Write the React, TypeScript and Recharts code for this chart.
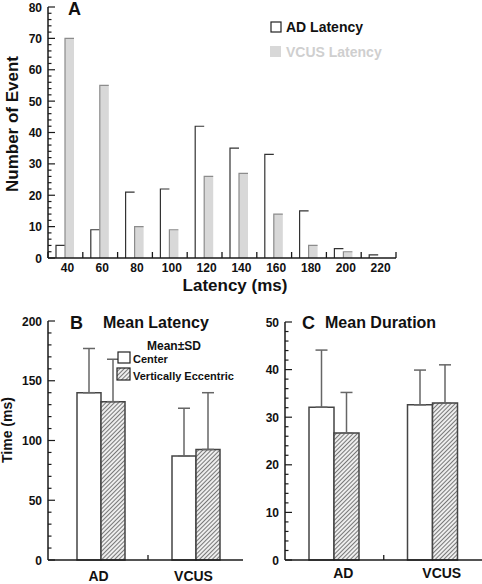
import React from 'react';
import { BarChart, Bar, XAxis, YAxis, ErrorBar } from 'recharts';

// ---------- Panel A data ----------
const latencyBins = ['40', '60', '80', '100', '120', '140', '160', '180', '200', '220'];
const adLatencyCounts = [4, 9, 21, 22, 42, 35, 33, 15, 3, 1];
const vcusLatencyCounts = [70, 55, 10, 9, 26, 27, 14, 4, 2, 0];
const countMajorTicks = [0, 10, 20, 30, 40, 50, 60, 70, 80];
const countMinorStep = 2;

// ---------- Panels B / C data ----------
const groups = ['AD', 'VCUS'];
const latencyCenterMean = [140, 87];
const latencyCenterSD = [37, 40];
const latencyEccMean = [132.5, 92.5];
const latencyEccSD = [35.5, 47.5];
const latencyMajorTicks = [0, 50, 100, 150, 200];
const latencyMinorStep = 10;

const durationCenterMean = [32.1, 32.6];
const durationCenterSD = [12, 7.3];
const durationEccMean = [26.7, 33];
const durationEccSD = [8.5, 8];
const durationMajorTicks = [0, 10, 20, 30, 40, 50];
const durationMinorStep = 2;

const histData = latencyBins.map((bin, i) => ({
  bin,
  ad: adLatencyCounts[i],
  vcus: vcusLatencyCounts[i],
}));

const latencyData = groups.map((g, i) => ({
  group: g,
  center: latencyCenterMean[i],
  centerErr: [0, latencyCenterSD[i]],
  ecc: latencyEccMean[i],
  eccErr: [0, latencyEccSD[i]],
}));

const durationData = groups.map((g, i) => ({
  group: g,
  center: durationCenterMean[i],
  centerErr: [0, durationCenterSD[i]],
  ecc: durationEccMean[i],
  eccErr: [0, durationEccSD[i]],
}));

const allTicks = (majors: number[], step: number) => {
  const out: number[] = [];
  const max = majors[majors.length - 1];
  for (let v = 0; v <= max + 1e-9; v += step) out.push(Math.round(v * 100) / 100);
  return out;
};

const FONT = '"Liberation Sans", Arial, Helvetica, sans-serif';
const AXIS = '#1a1a1a';

const makeYTick = (majors: number[]) => (props: any) => {
  const { x, y, payload } = props;
  const isMajor = majors.includes(payload.value);
  return (
    <g>
      <line x1={x} x2={x + (isMajor ? 7 : 3.5)} y1={y} y2={y} stroke={AXIS} strokeWidth={1.2} />
      {isMajor && (
        <text x={x - 6} y={y} dy={4.5} textAnchor="end" fontFamily={FONT} fontSize={12} fontWeight="bold" fill="#111">
          {payload.value}
        </text>
      )}
    </g>
  );
};

const BAND_A = (396 - 48) / 10;

const HistTick = (props: any) => {
  const { x, y, payload, index } = props;
  const half = BAND_A / 2;
  return (
    <g>
      <line x1={x - half} x2={x - half} y1={y} y2={y - 6} stroke={AXIS} strokeWidth={1.3} />
      {index === latencyBins.length - 1 && (
        <line x1={x + half} x2={x + half} y1={y} y2={y - 6} stroke={AXIS} strokeWidth={1.3} />
      )}
      <text x={x + 2} y={y + 14} textAnchor="middle" fontFamily={FONT} fontSize={12} fontWeight="bold" fill="#111">
        {payload.value}
      </text>
    </g>
  );
};

const makeGroupTick = (band: number, dy: number, dx: number) => (props: any) => {
  const { x, y, payload, index } = props;
  return (
    <g>
      {index === 1 && (
        <line x1={x - band / 2} x2={x - band / 2} y1={y} y2={y - 5} stroke={AXIS} strokeWidth={1.3} />
      )}
      <text x={x + dx} y={y + dy} textAnchor="middle" fontFamily={FONT} fontSize={14} fontWeight="bold" fill="#111">
        {payload.value}
      </text>
    </g>
  );
};

const OpenBarOutline = (props: any) => {
  const { x, y, width, height } = props;
  if (!height || height <= 0) return null;
  return (
    <g>
      <rect x={x} y={y} width={width} height={height} fill="#fff" />
      <path d={`M${x},${y + height} L${x},${y} L${x + width},${y}`} fill="none" stroke="#333" strokeWidth={1.2} />
    </g>
  );
};

const GrayBar = (props: any) => {
  const { x, y, width, height } = props;
  if (!height || height <= 0) return null;
  return (
    <g>
      <rect x={x} y={y} width={width} height={height} fill="#d8d8d8" />
      <path d={`M${x},${y + height} L${x},${y} L${x + width},${y}`} fill="none" stroke="#8c8c8c" strokeWidth={1.2} />
    </g>
  );
};

const axisLineStyle = { stroke: AXIS, strokeWidth: 1.5 };

export default function App() {
  const bold = { fontFamily: FONT, fontWeight: 'bold' as const };
  return (
    <div style={{ position: 'absolute', left: 0, top: 0, width: 482, height: 584, background: '#fff', fontFamily: FONT }}>
      <svg width={0} height={0} style={{ position: 'absolute' }}>
        <defs>
          <pattern id="hatch" patternUnits="userSpaceOnUse" width="3" height="3" patternTransform="rotate(45)">
            <rect x="0" y="0" width="3" height="3" fill="#eeeeee" />
            <line x1="0" y1="0" x2="0" y2="3" stroke="#505050" strokeWidth="1.5" />
          </pattern>
        </defs>
      </svg>

      {/* Panel A */}
      <div style={{ position: 'absolute', left: 0, top: 0 }}>
        <BarChart
          width={482}
          height={300}
          data={histData}
          margin={{ top: 7, right: 86, left: 0, bottom: 0 }}
          barGap={0}
        >
          <XAxis
            dataKey="bin"
            height={42}
            interval={0}
            tickSize={0}
            tickMargin={0}
            tickLine={false}
            axisLine={axisLineStyle}
            tick={HistTick}
          />
          <YAxis
            width={48}
            domain={[0, 80]}
            ticks={allTicks(countMajorTicks, countMinorStep)}
            interval={0}
            tickSize={0}
            tickMargin={0}
            tickLine={false}
            axisLine={axisLineStyle}
            tick={makeYTick(countMajorTicks)}
          />
          <Bar dataKey="ad" barSize={9} shape={OpenBarOutline} isAnimationActive={false} />
          <Bar dataKey="vcus" barSize={9} shape={GrayBar} isAnimationActive={false} />
        </BarChart>
      </div>

      {/* Panel B */}
      <div style={{ position: 'absolute', left: 0, top: 300 }}>
        <BarChart
          width={250}
          height={284}
          data={latencyData}
          margin={{ top: 21, right: 7, left: 0, bottom: 0 }}
          barGap={0}
        >
          <XAxis
            dataKey="group"
            height={24}
            interval={0}
            padding={{ left: 5, right: 0 }}
            tickSize={0}
            tickMargin={0}
            tickLine={false}
            axisLine={axisLineStyle}
            tick={makeGroupTick(95, 21, -2)}
          />
          <YAxis
            width={48}
            domain={[0, 200]}
            ticks={allTicks(latencyMajorTicks, latencyMinorStep)}
            interval={0}
            tickSize={0}
            tickMargin={0}
            tickLine={false}
            axisLine={axisLineStyle}
            tick={makeYTick(latencyMajorTicks)}
          />
          <Bar dataKey="center" barSize={24} fill="#fff" stroke="#444" strokeWidth={1.5} isAnimationActive={false}>
            <ErrorBar dataKey="centerErr" width={6} stroke="#666" strokeWidth={1.5} direction="y" />
          </Bar>
          <Bar dataKey="ecc" barSize={24} fill="url(#hatch)" stroke="#444" strokeWidth={1.5} isAnimationActive={false}>
            <ErrorBar dataKey="eccErr" width={6} stroke="#666" strokeWidth={1.5} direction="y" />
          </Bar>
        </BarChart>
      </div>

      {/* Panel C */}
      <div style={{ position: 'absolute', left: 240, top: 300 }}>
        <BarChart
          width={242}
          height={284}
          data={durationData}
          margin={{ top: 22, right: 0, left: 0, bottom: 0 }}
          barGap={0}
        >
          <XAxis
            dataKey="group"
            height={24}
            interval={0}
            tickSize={0}
            tickMargin={0}
            tickLine={false}
            axisLine={axisLineStyle}
            tick={makeGroupTick(98, 18, 9)}
          />
          <YAxis
            width={45}
            domain={[0, 50]}
            ticks={allTicks(durationMajorTicks, durationMinorStep)}
            interval={0}
            tickSize={0}
            tickMargin={0}
            tickLine={false}
            axisLine={axisLineStyle}
            tick={makeYTick(durationMajorTicks)}
          />
          <Bar dataKey="center" barSize={25} fill="#fff" stroke="#444" strokeWidth={1.5} isAnimationActive={false}>
            <ErrorBar dataKey="centerErr" width={6} stroke="#666" strokeWidth={1.5} direction="y" />
          </Bar>
          <Bar dataKey="ecc" barSize={25} fill="url(#hatch)" stroke="#444" strokeWidth={1.5} isAnimationActive={false}>
            <ErrorBar dataKey="eccErr" width={6} stroke="#666" strokeWidth={1.5} direction="y" />
          </Bar>
        </BarChart>
      </div>

      {/* Text overlay */}
      <svg width={482} height={584} style={{ position: 'absolute', left: 0, top: 0, pointerEvents: 'none' }}>
        {/* Panel A texts */}
        <text x={68} y={15} fontSize={18} {...bold} fill="#111">A</text>
        <text transform="translate(17.5,124) rotate(-90)" textAnchor="middle" fontSize={17} {...bold} fill="#111">
          Number of Event
        </text>
        <text x={235} y={291} textAnchor="middle" fontSize={17} {...bold} fill="#111">Latency (ms)</text>
        <rect x={271} y={22} width={10} height={10} fill="#fff" stroke="#222" strokeWidth={1.2} />
        <text x={286} y={32} fontSize={14} {...bold} fill="#111">AD Latency</text>
        <rect x={270} y={46} width={11} height={11} fill="#d8d8d8" />
        <text x={286} y={57} fontSize={14} {...bold} fill="#cfcfcf">VCUS Latency</text>

        {/* Panel B texts */}
        <text x={70} y={329} fontSize={18} {...bold} fill="#111">B</text>
        <text x={103} y={328} fontSize={16} {...bold} fill="#111">Mean Latency</text>
        <text transform="translate(12,430) rotate(-90)" textAnchor="middle" fontSize={14} {...bold} fill="#111">
          Time (ms)
        </text>
        <text x={147} y={350} fontSize={12} {...bold} fill="#111">Mean±SD</text>
        <rect x={118} y={352} width={12} height={11} fill="#fff" stroke="#222" strokeWidth={1.2} />
        <text x={133} y={363} fontSize={11} {...bold} fill="#111">Center</text>
        <rect x={117} y={368} width={13} height={12} fill="url(#hatch)" stroke="#222" strokeWidth={1.2} />
        <text x={133} y={380} fontSize={11} {...bold} fill="#111">Vertically Eccentric</text>

        {/* Panel C texts */}
        <text x={302} y={329} fontSize={18} {...bold} fill="#111">C</text>
        <text x={325} y={328} fontSize={16} {...bold} fill="#111">Mean Duration</text>
      </svg>
    </div>
  );
}
